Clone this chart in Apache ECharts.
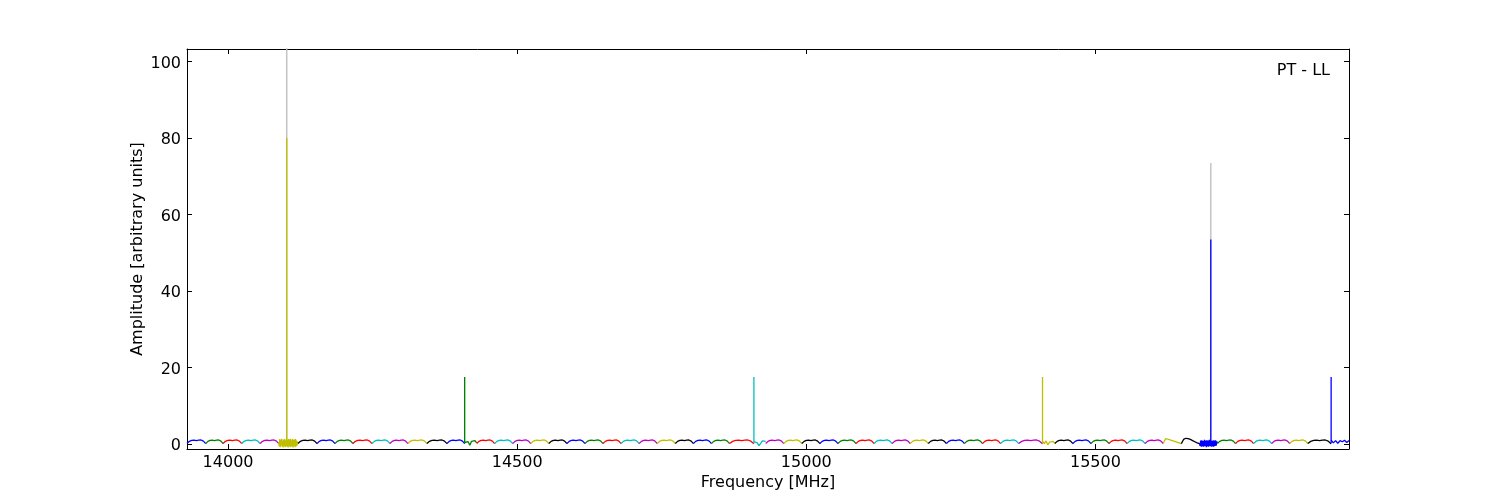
<!DOCTYPE html>
<html><head><meta charset="utf-8">
<script src="https://cdn.jsdelivr.net/npm/echarts@6/dist/echarts.min.js"></script>
<style>html,body{margin:0;padding:0;background:#fff}#c{width:1500px;height:500px}</style>
</head><body><div id="c"></div>
<script>
// ---- data ----
const xTicks = [14000, 14500, 15000, 15500];
const yTicks = [0, 20, 40, 60, 80, 100];
const xRange = [13929, 15938.5];
const yRange = [-1.3, 103.3];
const cycleColors = ['#0000ff', '#008000', '#ff0000', '#00bfbf', '#bf00bf', '#bfbf00', '#000000'];

// start frequency (MHz) of each sub-band
const segStarts = [
  13929, 13961.4, 13991.4, 14023.7, 14055.5, 14087.7, 14121, 14153.9, 14185, 14216,
  14249, 14280, 14311, 14344, 14378.6, 14409.2, 14430, 14461, 14492.3, 14523.5,
  14554.8, 14586, 14617.3, 14648.5, 14679.8, 14711, 14742.3, 14773.5, 14804.8, 14836,
  14867.3, 14909.4, 14929.8, 14961, 14992.3, 15023.5, 15054.8, 15086, 15117.3, 15148.5,
  15179.8, 15211, 15242.3, 15273.5, 15304.8, 15336, 15367.3, 15408.5, 15429.8, 15461,
  15492.3, 15523.5, 15554.8, 15586, 15617.3, 15648.5, 15679.8, 15711, 15742.3, 15773.5,
  15804.8, 15836, 15867.3, 15907.6
];
const segEnd = 15938.5;

// typical band-pass profile of a sub-band (amplitude samples across the band)
const bandProfile = [0.15, 0.7, 0.95, 1.0, 0.9, 1.0, 1.05, 0.75, 0.1];

// sub-bands whose shape differs from the typical one
const seg5Values = [0.5,-0.6,1.3,-0.8,1.1,-0.4,1.4,-0.7,0.9,-0.9,1.2,-0.5,1.3,-0.8,1.0,-0.6,1.4,-0.7,1.1,-0.9,
                    1.3,-0.5,1.2,-0.8,1.4,-0.6,1.0,-0.7,1.3,-0.9,1.1,-0.5,1.2,-0.8,1.3,-0.6,0.9,-0.4,0.6,0.2];
const seg15Values = [0.4, -0.1, 0.6, -0.3, 0.7, 0.2, 0.9, 0.3];
const seg31Values = [0.6, 0.9, 0.3, -0.4, 0.2, 0.8, 0.9, 0.7];
const seg47Values = [0.7, 0.1, 0.8, -0.2, 0.5, 0.9, 0.7, 0.2];
const seg54Values = [0.2, 1.4, 1.3, 1.1, 0.9, 0.7, 0.5, 0.3, 0.1];
const seg55Values = [0.1, 1.2, 1.5, 1.4, 1.2, 0.9, 0.6, 0.3, 0.1];
const seg56Values = [0.3,-0.5,0.9,-0.7,1.0,-0.6,0.8,-0.7,1.1,-0.5,0.9,-0.8,1.0,-0.6,0.9,-0.7,1.1,-0.5,1.0,-0.7,
                     0.8,-0.6,1.0,-0.7,0.9,-0.5,1.0,-0.4,0.7,0.2];
const seg63Values = [1.0, 0.3, 0.9, 0.2, 0.9, 0.6, 1.0, 0.4, 0.9];
const segOverrides = {5: seg5Values, 15: seg15Values, 31: seg31Values, 47: seg47Values,
                      54: seg54Values, 55: seg55Values, 56: seg56Values, 63: seg63Values};

// narrow spikes: frequency, amplitude, sub-band index
const spikeFreqs = [14101.5, 14409.2, 14909.4, 15408.5, 15699.5, 15907.6];
const spikeAmps  = [80, 17.5, 17.5, 17.5, 53.5, 17.5];
const spikeSegs  = [5, 15, 31, 47, 56, 63];
// unprocessed (grey) spikes
const greyFreqs = [14101.5, 15699.5];
const greyAmps  = [150, 73.5];

// ---- build chart ----
const FONT = 'DejaVu Sans';
const series = [];
const lineBase = {type: 'line', showSymbol: false, symbol: 'none', animation: false, silent: true, clip: true};

greyFreqs.forEach((f, i) => {
  series.push(Object.assign({}, lineBase, {
    data: [[f, 0], [f, greyAmps[i]], [f, 0]],
    lineStyle: {color: '#bfbfbf', width: 1.4}, z: 1
  }));
});

segStarts.forEach((s, i) => {
  const e = i + 1 < segStarts.length ? segStarts[i + 1] : segEnd;
  const vals = segOverrides[i] || bandProfile;
  const data = vals.map((v, k) => [s + (e - s) * k / (vals.length - 1), v]);
  series.push(Object.assign({}, lineBase, {
    data, lineStyle: {color: cycleColors[i % 7], width: 1.3}, z: 2
  }));
});

spikeFreqs.forEach((f, i) => {
  series.push(Object.assign({}, lineBase, {
    data: [[f, 0.2], [f, spikeAmps[i]], [f, 0.2]],
    lineStyle: {color: cycleColors[spikeSegs[i] % 7], width: 1.3}, z: 3
  }));
});

const axisText = {color: '#000', fontFamily: FONT, fontSize: 16};
const plain = v => String(v);
const chart = echarts.init(document.getElementById('c'), null, {renderer: 'canvas'});
chart.setOption({
  backgroundColor: '#fff',
  animation: false,
  textStyle: {fontFamily: FONT},
  grid: {left: 187, top: 49, width: 1162, height: 400, containLabel: false, outerBoundsMode: 'none'},
  xAxis: [
    {type: 'value', position: 'bottom', min: xRange[0], max: xRange[1],
     name: 'Frequency [MHz]', nameLocation: 'middle', nameGap: 26, nameMoveOverlap: false,
     nameTextStyle: axisText,
     axisLine: {show: true, onZero: false, lineStyle: {color: '#000', width: 1}},
     axisTick: {show: true, inside: true, length: 5, customValues: xTicks, lineStyle: {color: '#000'}},
     axisLabel: {show: true, customValues: xTicks, margin: 6, formatter: plain, ...axisText},
     splitLine: {show: false}},
    {type: 'value', position: 'top', min: xRange[0], max: xRange[1],
     axisLine: {show: true, onZero: false, lineStyle: {color: '#000', width: 1}},
     axisTick: {show: true, inside: true, length: 5, customValues: xTicks, lineStyle: {color: '#000'}},
     axisLabel: {show: false}, splitLine: {show: false}}
  ],
  yAxis: [
    {type: 'value', position: 'left', min: yRange[0], max: yRange[1],
     name: 'Amplitude [arbitrary units]', nameLocation: 'middle', nameGap: 41, nameMoveOverlap: false,
     nameTextStyle: axisText,
     axisLine: {show: true, onZero: false, lineStyle: {color: '#000', width: 1}},
     axisTick: {show: true, inside: true, length: 5, customValues: yTicks, lineStyle: {color: '#000'}},
     axisLabel: {show: true, customValues: yTicks, margin: 6, formatter: v => '{t|' + v + '}', ...axisText,
                 rich: {t: {color: '#000', fontFamily: FONT, fontSize: 16, padding: [4, 0, 0, 0]}}},
     splitLine: {show: false}},
    {type: 'value', position: 'right', min: yRange[0], max: yRange[1],
     axisLine: {show: true, onZero: false, lineStyle: {color: '#000', width: 1}},
     axisTick: {show: true, inside: true, length: 5, customValues: yTicks, lineStyle: {color: '#000'}},
     axisLabel: {show: false}, splitLine: {show: false}}
  ],
  graphic: [{type: 'text', right: 170, top: 63, z: 10,
             style: {text: 'PT - LL', font: '16px "DejaVu Sans"', fill: '#000'}}],
  series
});
</script>
</body></html>
